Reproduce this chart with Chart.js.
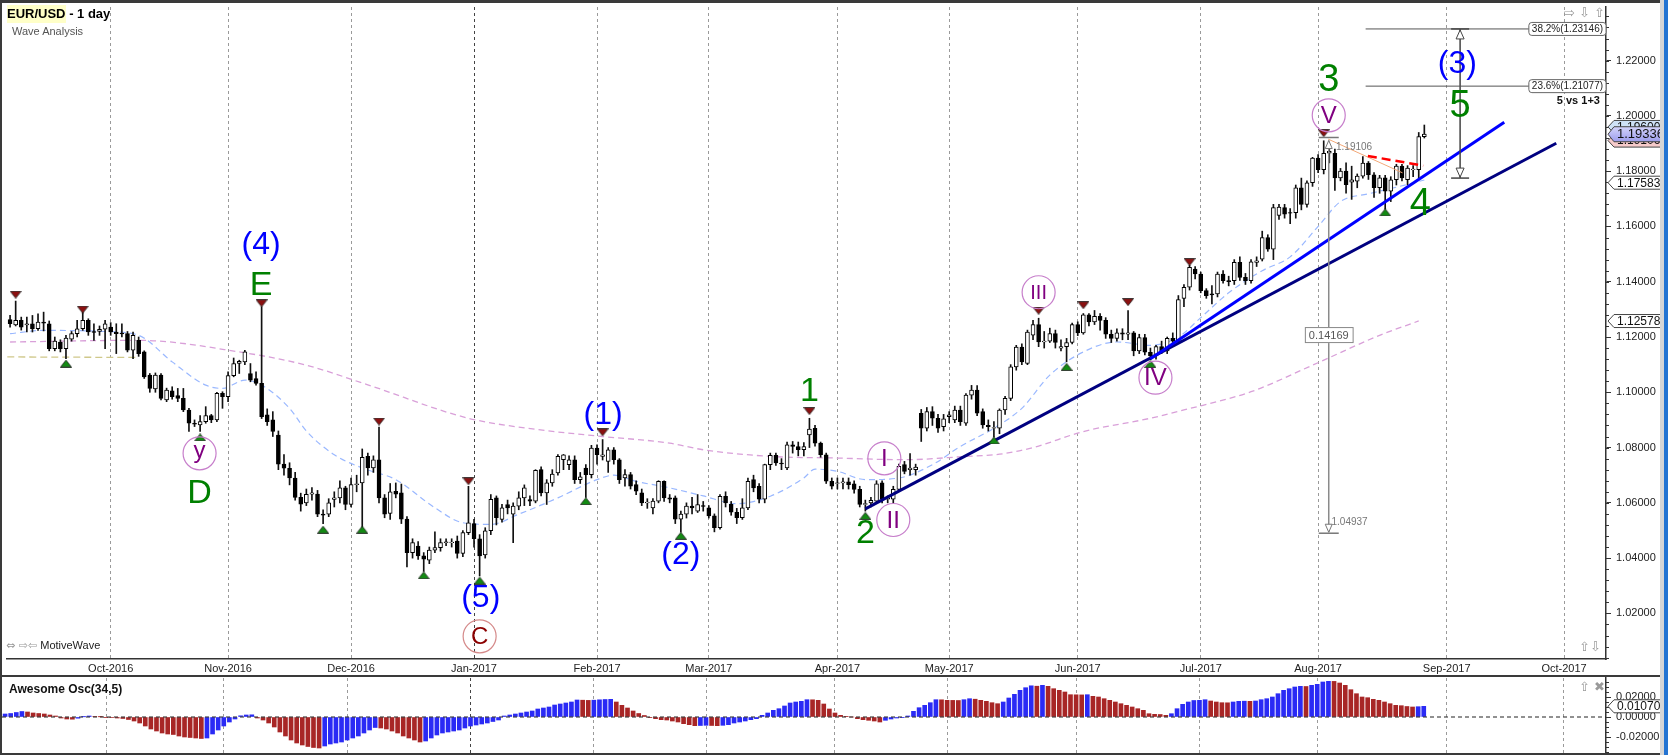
<!DOCTYPE html>
<html><head><meta charset="utf-8">
<script src="https://cdn.jsdelivr.net/npm/chart.js@4.4.1/dist/chart.umd.min.js"></script>
<style>
html,body{margin:0;padding:0;background:#fff;}
#wrap{position:relative;width:1668px;height:755px;overflow:hidden;background:#fff;font-family:'Liberation Sans',Arial,sans-serif;}
canvas{position:absolute;left:0;}
#c1{top:0;width:1668px;height:676px;}
#c2{top:676px;width:1668px;height:79px;}
.t{position:absolute;white-space:nowrap;line-height:1;}
.bar{position:absolute;background:#3a3a3a;}
.ico{position:absolute;white-space:nowrap;font-family:'DejaVu Sans',sans-serif;color:#9a9a9a;line-height:1;}
</style></head><body>
<div id="wrap">
<canvas id="c1" width="1668" height="676"></canvas>
<canvas id="c2" width="1668" height="79"></canvas>
<div class="bar" style="left:0;top:0;width:1668px;height:3px;"></div>
<div class="bar" style="left:0;top:0;width:2px;height:755px;"></div>
<div class="bar" style="left:0;top:675px;width:1664px;height:2px;"></div>
<div class="bar" style="left:0;top:753px;width:1668px;height:2px;"></div>
<div style="position:absolute;left:1660px;top:0;width:4px;height:755px;background:#d6d6d6;"></div>
<div style="position:absolute;left:1664px;top:0;width:4px;height:755px;background:#2474d2;"></div>
<div class="t" style="left:7px;top:7px;font-size:13px;font-weight:bold;color:#000;"><span style="background:#ffffc8;padding:1px 0 2px 0;">EUR/USD</span> - 1 day</div>
<div class="t" style="left:12px;top:26px;font-size:11px;color:#555;">Wave Analysis</div>
<div class="t" style="left:6px;top:640px;font-size:11px;color:#222;"><span style="font-family:'DejaVu Sans';color:#999;font-size:11px;">&#x21D4; &#x21E8;&#x21E6;</span> MotiveWave</div>
<div class="t" style="left:9px;top:683px;font-size:12px;font-weight:bold;color:#111;">Awesome Osc(34,5)</div>
<div class="ico" style="left:1564px;top:6px;font-size:13px;">&#x21E8; &#x21E9; &#x21E7;</div>
<div class="ico" style="left:1579px;top:640px;font-size:13px;">&#x21E7;&#x21E9;</div>
<div class="ico" style="left:1579px;top:680px;font-size:13px;">&#x21E7; &#x2716;</div>
</div>
<script>
const family = "'Liberation Sans', Arial, sans-serif";

// ---- categories: weekday index (0 = 7 Sep 2016) and month tick positions
const monthIdx = [18,39,61,83,105,125,148,168,191,213,234,257,278];
const monthLabels = ['Oct-2016','Nov-2016','Dec-2016','Jan-2017','Feb-2017','Mar-2017','Apr-2017','May-2017','Jun-2017','Jul-2017','Aug-2017','Sep-2017','Oct-2017'];

// ---- daily OHLC (EUR/USD)
const open = [
1.1263,1.1244,1.1260,1.1244,1.1248,1.1230,1.1254,1.1248,1.1158,1.1182,
1.1158,1.1192,1.1212,1.1230,1.1260,1.1220,1.1220,1.1228,1.1236,1.1218,
1.1214,1.1212,1.1152,1.1188,1.1146,1.1062,1.1012,1.1062,1.0972,1.1005,
1.0988,1.0978,1.0936,1.0888,1.0882,1.0894,1.0916,1.0900,1.0996,1.0984,
1.1060,1.1104,1.1110,1.1068,1.1050,1.1032,1.0918,1.0900,1.0845,1.0740,
1.0725,1.0690,1.0620,1.0600,1.0631,1.0632,1.0559,1.0559,1.0612,1.0618,
1.0654,1.0594,1.0666,1.0672,1.0768,1.0726,1.0756,1.0618,1.0562,1.0642,
1.0636,1.0541,1.0420,1.0444,1.0408,1.0393,1.0429,1.0438,1.0456,1.0456,
1.0462,1.0417,1.0492,1.0525,1.0470,1.0412,1.0499,1.0618,1.0540,1.0594,
1.0559,1.0588,1.0618,1.0612,1.0606,1.0720,1.0636,1.0672,1.0708,1.0756,
1.0738,1.0756,1.0684,1.0726,1.0702,1.0798,1.0768,1.0750,1.0792,1.0756,
1.0690,1.0702,1.0666,1.0636,1.0600,1.0582,1.0606,1.0678,1.0618,1.0618,
1.0541,1.0559,1.0588,1.0570,1.0590,1.0582,1.0553,1.0510,1.0624,1.0595,
1.0566,1.0546,1.0582,1.0684,1.0660,1.0613,1.0738,1.0772,1.0744,1.0726,
1.0810,1.0804,1.0792,1.0846,1.0870,1.0816,1.0774,1.0678,1.0670,1.0672,
1.0676,1.0669,1.0649,1.0594,1.0600,1.0606,1.0672,1.0613,1.0613,1.0649,
1.0738,1.0720,1.0720,1.0924,1.0870,1.0930,1.0906,1.0876,1.0912,1.0900,
1.0936,1.0888,1.0990,1.1008,1.0930,1.0880,1.0870,1.0870,1.0936,1.0978,
1.1092,1.1164,1.1104,1.1207,1.1245,1.1182,1.1185,1.1212,1.1160,1.1165,
1.1180,1.1245,1.1215,1.1280,1.1255,1.1275,1.1260,1.1210,1.1195,1.1215,
1.1210,1.1215,1.1150,1.1198,1.1145,1.1132,1.1165,1.1150,1.1195,1.1185,
1.1340,1.1380,1.1446,1.1428,1.1368,1.1356,1.1356,1.1428,1.1404,1.1404,
1.1470,1.1416,1.1404,1.1470,1.1482,1.1560,1.1518,1.1640,1.1668,1.1650,
1.1650,1.1740,1.1680,1.1758,1.1847,1.1805,1.1865,1.1865,1.1776,1.1800,
1.1760,1.1764,1.1782,1.1829,1.1787,1.1740,1.1776,1.1728,1.1769,1.1818,
1.1769,1.1805,1.1805,1.1925];
const high = [
1.1278,1.1330,1.1272,1.1272,1.1278,1.1284,1.1290,1.1258,1.1200,1.1190,
1.1206,1.1220,1.1260,1.1292,1.1266,1.1248,1.1240,1.1260,1.1252,1.1248,
1.1248,1.1220,1.1218,1.1200,1.1150,1.1068,1.1070,1.1068,1.1015,1.1020,
1.1014,1.1014,1.0942,1.0900,1.0916,1.0948,1.0920,1.1000,1.1002,1.1074,
1.1124,1.1116,1.1152,1.1104,1.1074,1.1310,1.0940,1.0930,1.0860,1.0775,
1.0745,1.0710,1.0635,1.0650,1.0655,1.0645,1.0575,1.0615,1.0640,1.0680,
1.0660,1.0690,1.0700,1.0795,1.0780,1.0770,1.0874,1.0630,1.0670,1.0672,
1.0668,1.0550,1.0470,1.0460,1.0420,1.0440,1.0495,1.0470,1.0470,1.0470,
1.0480,1.0500,1.0660,1.0540,1.0485,1.0510,1.0630,1.0625,1.0595,1.0610,
1.0600,1.0640,1.0665,1.0625,1.0720,1.0730,1.0684,1.0720,1.0775,1.0775,
1.0770,1.0770,1.0710,1.0738,1.0808,1.0810,1.0829,1.0800,1.0800,1.0760,
1.0720,1.0710,1.0680,1.0650,1.0615,1.0615,1.0680,1.0680,1.0630,1.0625,
1.0570,1.0600,1.0620,1.0630,1.0605,1.0590,1.0560,1.0630,1.0640,1.0605,
1.0580,1.0615,1.0690,1.0700,1.0670,1.0740,1.0780,1.0780,1.0760,1.0820,
1.0822,1.0820,1.0818,1.0906,1.0880,1.0820,1.0780,1.0690,1.0690,1.0690,
1.0690,1.0680,1.0660,1.0610,1.0620,1.0680,1.0680,1.0625,1.0660,1.0740,
1.0750,1.0778,1.0740,1.0938,1.0945,1.0948,1.0920,1.0920,1.0930,1.0950,
1.0950,1.0995,1.1025,1.1024,1.0940,1.0900,1.0894,1.0940,1.0985,1.1100,
1.1170,1.1175,1.1225,1.1260,1.1268,1.1220,1.1232,1.1225,1.1190,1.1195,
1.1250,1.1255,1.1285,1.1285,1.1296,1.1285,1.1270,1.1225,1.1230,1.1230,
1.1296,1.1220,1.1210,1.1210,1.1160,1.1170,1.1185,1.1200,1.1215,1.1350,
1.1390,1.1460,1.1455,1.1435,1.1375,1.1386,1.1435,1.1440,1.1420,1.1480,
1.1490,1.1430,1.1480,1.1490,1.1583,1.1570,1.1680,1.1680,1.1680,1.1665,
1.1750,1.1775,1.1765,1.1850,1.1860,1.1910,1.1880,1.1880,1.1810,1.1830,
1.1818,1.1790,1.1853,1.1835,1.1795,1.1785,1.1785,1.1780,1.1825,1.1825,
1.1820,1.1820,1.1940,1.1967];
const low = [
1.1236,1.1240,1.1225,1.1218,1.1218,1.1224,1.1222,1.1150,1.1150,1.1146,
1.1122,1.1185,1.1200,1.1224,1.1206,1.1188,1.1206,1.1158,1.1206,1.1140,
1.1200,1.1146,1.1122,1.1130,1.1050,1.1000,1.1000,1.0972,1.0966,1.0975,
1.0966,1.0930,1.0858,1.0876,1.0858,1.0888,1.0890,1.0894,1.0942,1.0966,
1.1056,1.1068,1.1100,1.1038,1.1026,1.0905,1.0880,1.0840,1.0720,1.0700,
1.0665,1.0610,1.0570,1.0590,1.0610,1.0550,1.0525,1.0550,1.0585,1.0600,
1.0575,1.0585,1.0640,1.0505,1.0700,1.0710,1.0600,1.0546,1.0540,1.0618,
1.0525,1.0368,1.0400,1.0395,1.0352,1.0380,1.0420,1.0425,1.0445,1.0440,
1.0400,1.0405,1.0485,1.0440,1.0335,1.0400,1.0485,1.0520,1.0530,1.0560,
1.0456,1.0575,1.0590,1.0590,1.0600,1.0625,1.0594,1.0660,1.0700,1.0720,
1.0720,1.0670,1.0670,1.0620,1.0690,1.0740,1.0755,1.0710,1.0740,1.0670,
1.0660,1.0650,1.0630,1.0590,1.0580,1.0560,1.0600,1.0605,1.0600,1.0525,
1.0494,1.0545,1.0560,1.0565,1.0570,1.0545,1.0495,1.0505,1.0585,1.0555,
1.0525,1.0540,1.0575,1.0640,1.0600,1.0600,1.0720,1.0735,1.0720,1.0720,
1.0780,1.0770,1.0770,1.0800,1.0805,1.0765,1.0670,1.0650,1.0650,1.0650,
1.0650,1.0635,1.0585,1.0570,1.0585,1.0600,1.0600,1.0600,1.0600,1.0640,
1.0705,1.0700,1.0700,1.0822,1.0860,1.0880,1.0855,1.0860,1.0890,1.0890,
1.0880,1.0880,1.0975,1.0915,1.0870,1.0860,1.0838,1.0850,1.0920,1.0970,
1.1080,1.1100,1.1100,1.1190,1.1165,1.1160,1.1180,1.1160,1.1150,1.1110,
1.1175,1.1205,1.1210,1.1240,1.1245,1.1225,1.1195,1.1180,1.1185,1.1190,
1.1190,1.1132,1.1140,1.1135,1.1118,1.1120,1.1140,1.1140,1.1180,1.1180,
1.1310,1.1370,1.1410,1.1360,1.1340,1.1320,1.1345,1.1395,1.1385,1.1390,
1.1405,1.1390,1.1395,1.1455,1.1475,1.1510,1.1480,1.1625,1.1630,1.1610,
1.1630,1.1660,1.1670,1.1745,1.1795,1.1790,1.1830,1.1730,1.1765,1.1720,
1.1698,1.1740,1.1775,1.1770,1.1705,1.1720,1.1662,1.1690,1.1750,1.1765,
1.1750,1.1780,1.1775,1.1920];
const close = [
1.1248,1.1260,1.1236,1.1248,1.1230,1.1254,1.1250,1.1158,1.1185,1.1158,
1.1196,1.1212,1.1230,1.1260,1.1218,1.1217,1.1228,1.1248,1.1218,1.1212,
1.1211,1.1152,1.1206,1.1140,1.1056,1.1014,1.1062,1.0978,1.1008,1.0984,
1.0978,1.0936,1.0888,1.0885,1.0894,1.0916,1.0900,1.0996,1.0984,1.1060,
1.1104,1.1112,1.1146,1.1044,1.1032,1.0912,1.0894,1.0858,1.0740,1.0725,
1.0690,1.0620,1.0595,1.0631,1.0636,1.0559,1.0555,1.0600,1.0618,1.0654,
1.0594,1.0666,1.0669,1.0765,1.0726,1.0756,1.0618,1.0559,1.0640,1.0631,
1.0541,1.0420,1.0456,1.0408,1.0396,1.0429,1.0438,1.0456,1.0459,1.0458,
1.0417,1.0492,1.0528,1.0470,1.0408,1.0499,1.0613,1.0546,1.0582,1.0582,
1.0588,1.0618,1.0654,1.0606,1.0718,1.0636,1.0672,1.0704,1.0768,1.0774,
1.0756,1.0684,1.0694,1.0702,1.0798,1.0774,1.0774,1.0792,1.0756,1.0684,
1.0702,1.0660,1.0642,1.0600,1.0603,1.0606,1.0678,1.0618,1.0613,1.0541,
1.0559,1.0588,1.0582,1.0594,1.0587,1.0553,1.0510,1.0624,1.0600,1.0566,
1.0546,1.0582,1.0678,1.0654,1.0613,1.0738,1.0772,1.0744,1.0741,1.0810,
1.0804,1.0792,1.0804,1.0867,1.0816,1.0774,1.0678,1.0660,1.0672,1.0676,
1.0666,1.0649,1.0594,1.0597,1.0609,1.0669,1.0613,1.0616,1.0649,1.0732,
1.0714,1.0726,1.0729,1.0870,1.0930,1.0906,1.0870,1.0904,1.0918,1.0936,
1.0894,1.0990,1.1008,1.0924,1.0882,1.0876,1.0872,1.0936,1.0978,1.1092,
1.1164,1.1110,1.1218,1.1245,1.1182,1.1185,1.1212,1.1180,1.1165,1.1180,
1.1245,1.1215,1.1280,1.1255,1.1275,1.1260,1.1210,1.1195,1.1215,1.1210,
1.1215,1.1150,1.1198,1.1145,1.1132,1.1165,1.1150,1.1195,1.1185,1.1335,
1.1380,1.1452,1.1428,1.1368,1.1350,1.1352,1.1428,1.1404,1.1400,1.1470,
1.1416,1.1404,1.1472,1.1476,1.1560,1.1518,1.1668,1.1670,1.1644,1.1648,
1.1740,1.1680,1.1758,1.1847,1.1805,1.1865,1.1872,1.1776,1.1800,1.1751,
1.1769,1.1782,1.1829,1.1787,1.1740,1.1776,1.1728,1.1769,1.1818,1.1776,
1.1811,1.1808,1.1925,1.1934];

// ---- Awesome Oscillator (34,5)
const ao = [
0.0030,0.0035,0.0045,0.0055,0.0050,0.0040,0.0035,0.0030,0.0020,0.0010,
-0.0010,-0.0020,-0.0022,-0.0012,0.0002,0.0010,0.0006,0.0002,-0.0003,-0.0006,
-0.0010,-0.0015,-0.0025,-0.0040,-0.0060,-0.0090,-0.0120,-0.0140,-0.0160,-0.0170,
-0.0175,-0.0190,-0.0200,-0.0205,-0.0210,-0.0215,-0.0210,-0.0170,-0.0130,-0.0090,
-0.0050,-0.0020,0.0012,0.0020,0.0022,-0.0010,-0.0030,-0.0060,-0.0100,-0.0150,
-0.0190,-0.0230,-0.0260,-0.0280,-0.0295,-0.0305,-0.0310,-0.0290,-0.0270,-0.0260,
-0.0250,-0.0230,-0.0210,-0.0190,-0.0160,-0.0130,-0.0105,-0.0110,-0.0120,-0.0140,
-0.0160,-0.0190,-0.0210,-0.0230,-0.0250,-0.0240,-0.0210,-0.0180,-0.0160,-0.0150,
-0.0140,-0.0130,-0.0110,-0.0090,-0.0080,-0.0070,-0.0060,-0.0045,-0.0030,0.0010,
0.0020,0.0030,0.0040,0.0050,0.0060,0.0080,0.0090,0.0100,0.0120,0.0130,
0.0140,0.0150,0.0170,0.0168,0.0166,0.0168,0.0172,0.0175,0.0177,0.0150,
0.0117,0.0090,0.0060,0.0035,0.0015,-0.0007,-0.0017,-0.0027,-0.0030,-0.0040,
-0.0050,-0.0067,-0.0077,-0.0087,-0.0085,-0.0083,-0.0085,-0.0087,-0.0083,-0.0077,
-0.0060,-0.0050,-0.0040,-0.0027,-0.0017,0.0017,0.0040,0.0067,0.0083,0.0110,
0.0140,0.0150,0.0157,0.0173,0.0172,0.0167,0.0130,0.0080,0.0040,0.0017,
0.0007,0.0000,-0.0017,-0.0027,-0.0033,-0.0040,-0.0050,-0.0033,-0.0020,-0.0010,
-0.0007,0.0010,0.0057,0.0093,0.0117,0.0143,0.0173,0.0172,0.0167,0.0166,
0.0165,0.0173,0.0183,0.0178,0.0167,0.0157,0.0143,0.0133,0.0150,0.0190,
0.0227,0.0267,0.0293,0.0312,0.0308,0.0317,0.0307,0.0283,0.0267,0.0250,
0.0223,0.0222,0.0221,0.0223,0.0207,0.0200,0.0183,0.0167,0.0150,0.0133,
0.0117,0.0100,0.0083,0.0067,0.0033,0.0027,0.0025,0.0017,0.0033,0.0083,
0.0127,0.0150,0.0165,0.0167,0.0173,0.0160,0.0150,0.0143,0.0142,0.0150,
0.0157,0.0158,0.0157,0.0160,0.0173,0.0183,0.0200,0.0233,0.0267,0.0283,
0.0300,0.0307,0.0305,0.0317,0.0327,0.0350,0.0357,0.0356,0.0340,0.0317,
0.0273,0.0233,0.0200,0.0193,0.0177,0.0167,0.0150,0.0133,0.0117,0.0113,
0.0105,0.0100,0.0103,0.0107];

// ---- moving averages [index, value]
const fastMA = [[0,1.1212],[6,1.1224],[17,1.1220],[23,1.1206],[29,1.1110],[35,1.1026],[38,1.1014],[42,1.1044],[45,1.1026],[50,1.0942],[53,1.0860],[58,1.0774],[63,1.0726],[69,1.0684],[76,1.0582],[81,1.0528],[86,1.0522],[91,1.0559],[98,1.0618],[105,1.0684],[108,1.0700],[112,1.0678],[118,1.0654],[124,1.0625],[130,1.0597],[136,1.0624],[142,1.0690],[144,1.0722],[148,1.0714],[153,1.0684],[159,1.0690],[165,1.0738],[170,1.0804],[176,1.0870],[181,1.0942],[186,1.1062],[192,1.1146],[198,1.1182],[204,1.1170],[209,1.1200],[213,1.1270],[218,1.1360],[224,1.1440],[229,1.1490],[234,1.1600],[238,1.1690],[243,1.1718],[248,1.1742],[253,1.1768]];
const slowMA = [[0,1.1182],[23,1.1188],[41,1.1146],[53,1.1098],[64,1.1027],[82,1.0906],[94,1.0866],[106,1.0840],[118,1.0816],[124,1.0792],[136,1.0768],[148,1.0762],[160,1.0756],[171,1.0768],[177,1.0776],[183,1.0800],[192,1.0858],[204,1.0906],[210,1.0936],[222,1.1002],[233,1.1098],[245,1.1206],[252,1.1258]];
const oliveLine = [[-0.5,1.1128],[23,1.1126]];

// ---- drawn tools [index, price]
const trendNavy = [[153,1.0578],[276.6,1.1901]];
const trendBlue = [[204,1.1121],[267.3,1.1977]];
const redDash = [[242.9,1.1855],[252.8,1.1820]];
const orangeLine = [[235.8,1.1916],[249.1,1.1794]];
const fib382 = [[242.5,1.23146],[271.7,1.23146]];
const fib236 = [[242.5,1.21077],[271.7,1.21077]];
const measureA = [[235.9,1.1911],[235.9,1.04937]];
const measureB = [[259.4,1.23146],[259.4,1.1775]];

// ---- swing markers [index, price]
const swingHighs = [[1,1.1353],[13,1.1299],[45,1.1322],[66,1.0894],[82,1.0678],[106,1.0855],[143,1.0932],[184,1.1295],[192,1.1315],[200,1.1326],[211,1.1471],[235,1.1937]];
const swingLows = [[10,1.1104],[34,1.0837],[56,1.0503],[63,1.0503],[74,1.0338],[84,1.0319],[103,1.0606],[120,1.0481],[153,1.0553],[176,1.0826],[189,1.1092],[204,1.1103],[246,1.1651]];

// ---- wave labels [text, index, price, kind]
const waveLabels = [['(4)',44.9,1.1531,'b'],['E',44.9,1.1387,'g'],['D',33.9,1.0632,'g'],['(5)',84.2,1.0254,'b'],['(1)',106.1,1.0919,'b'],['(2)',120,1.0409,'b'],['1',143,1.1002,'g'],['2',153,1.0488,'g'],['3',235.9,1.2128,'g'],['(3)',258.9,1.2186,'b'],['5',259.4,1.2035,'g'],['4',252.3,1.1678,'g']];
const circleLabels = [['y',33.9,1.0779,'p'],['C',84,1.0117,'r'],['I',156.4,1.0761,'p'],['II',158,1.0538,'p'],['III',184,1.1362,'p'],['IV',204.9,1.1053,'p'],['V',235.9,1.2002,'p']];
const priceTags = [[1.19600,'#cfe2f6',0],[1.19106,'#f6caca',0],[1.19336,'#a9a9f2',1],[1.17583,'#ffffff',0],[1.12578,'#ffffff',0]];

const N = open.length;
const idx = open.map((_, i) => i);

function triImg(color, down) {
  const c = document.createElement('canvas'); c.width = 12; c.height = 8;
  const g = c.getContext('2d');
  g.beginPath();
  if (down) { g.moveTo(0.5,0.5); g.lineTo(11.5,0.5); g.lineTo(6,7.5); }
  else { g.moveTo(6,0.5); g.lineTo(11.5,7.5); g.lineTo(0.5,7.5); }
  g.closePath(); g.fillStyle = color; g.fill(); g.strokeStyle = '#222'; g.lineWidth = 0.8; g.stroke();
  return c;
}
const pts = a => a.map(p => ({x: p[0], y: p[1]}));
const lineDs = (data, color, width, dash, order, tension) => ({type:'line', data: pts(data), borderColor: color, borderWidth: width, borderDash: dash || [], pointRadius: 0, fill: false, tension: tension || 0, cubicInterpolationMode: tension ? 'monotone' : 'default', order});

function rrect(ctx, x, y, w, h, r) {
  ctx.beginPath(); ctx.moveTo(x + r, y); ctx.arcTo(x + w, y, x + w, y + h, r); ctx.arcTo(x + w, y + h, x, y + h, r);
  ctx.arcTo(x, y + h, x, y, r); ctx.arcTo(x, y, x + w, y, r); ctx.closePath();
}
function tag(ctx, xl, yc, text, fill, big) {
  const h = big ? 15 : 13, tip = 6;
  ctx.font = (big ? '13px ' : '12px ') + family;
  const w = ctx.measureText(text).width + 6;
  ctx.beginPath(); ctx.moveTo(xl, yc); ctx.lineTo(xl + tip, yc - h / 2); ctx.lineTo(xl + tip + w, yc - h / 2);
  ctx.lineTo(xl + tip + w, yc + h / 2); ctx.lineTo(xl + tip, yc + h / 2); ctx.closePath();
  if (big) { const gr = ctx.createLinearGradient(0, yc - h / 2, 0, yc + h / 2); gr.addColorStop(0, '#d4d4fb'); gr.addColorStop(1, '#9c9cec'); ctx.fillStyle = gr; }
  else ctx.fillStyle = fill;
  ctx.fill(); ctx.strokeStyle = '#444'; ctx.lineWidth = 1; ctx.stroke();
  ctx.fillStyle = '#111'; ctx.textAlign = 'left'; ctx.textBaseline = 'middle'; ctx.fillText(text, xl + tip + 3, yc + 0.5);
}

const gridColor = c => (c.tick && c.tick.value === 83) ? '#444' : '#9a9a9a';

const mainDecor = {
  id: 'mainDecor',
  afterDraw(chart) {
    const {ctx, chartArea: ca} = chart;
    const sx = chart.scales.x, sy = chart.scales.y;
    const X = v => sx.getPixelForValue(v), Y = v => sy.getPixelForValue(v);
    ctx.save();
    ctx.strokeStyle = '#333'; ctx.lineWidth = 1;
    for (let v = 1.004; v < sy.max; v += 0.004) {
      const py = Math.round(Y(v)) + 0.5;
      ctx.beginPath(); ctx.moveTo(ca.right, py); ctx.lineTo(ca.right + 3, py); ctx.stroke();
    }
    const kinds = {b: ['#0000ff', 32], g: ['#008000', 34]};
    ctx.textAlign = 'center'; ctx.textBaseline = 'middle';
    for (const [t, xi, yp, k] of waveLabels) {
      let sz = kinds[k][1];
      if (t === '3' || t === '4' || t === '5') sz = 38;
      ctx.font = sz + 'px ' + family; ctx.fillStyle = kinds[k][0];
      ctx.fillText(t, X(xi), Y(yp));
    }
    for (const [t, xi, yp, k] of circleLabels) {
      const px = X(xi), py = Y(yp);
      ctx.beginPath(); ctx.arc(px, py, 16.5, 0, Math.PI * 2);
      ctx.strokeStyle = k === 'r' ? '#d58a8a' : '#c77fcb'; ctx.lineWidth = 1.2; ctx.stroke();
      ctx.font = (t.length > 2 ? 20 : 24) + 'px ' + family; ctx.fillStyle = k === 'r' ? '#8b0000' : '#800080';
      ctx.fillText(t, px, py + (t === 'y' ? -2 : 1));
    }
    ctx.font = '10px ' + family;
    for (const [lab, f] of [['38.2%(1.23146)', fib382], ['23.6%(1.21077)', fib236]]) {
      const x0 = X(f[1][0]), y0 = Y(f[1][1]);
      const w = ctx.measureText(lab).width + 6;
      rrect(ctx, x0, y0 - 6.5, w, 13, 3); ctx.fillStyle = '#fff'; ctx.fill(); ctx.strokeStyle = '#666'; ctx.lineWidth = 1; ctx.stroke();
      ctx.fillStyle = '#222'; ctx.textAlign = 'left'; ctx.fillText(lab, x0 + 3, y0 + 0.5);
    }
    ctx.font = 'bold 11px ' + family; ctx.fillStyle = '#111'; ctx.textAlign = 'left';
    ctx.fillText('5 vs 1+3', X(276.7), Y(1.2053));
    const ax = X(measureA[0][0]);
    ctx.strokeStyle = '#777'; ctx.lineWidth = 1.5;
    let yt = Y(measureA[0][1]), yb = Y(measureA[1][1]);
    ctx.beginPath(); ctx.moveTo(ax - 10, yt - 3); ctx.lineTo(ax + 10, yt - 3); ctx.stroke();
    ctx.beginPath(); ctx.moveTo(ax - 10, yb + 1); ctx.lineTo(ax + 10, yb + 1); ctx.stroke();
    ctx.lineWidth = 1;
    ctx.beginPath(); ctx.moveTo(ax, yt); ctx.lineTo(ax - 3.5, yt + 8); ctx.lineTo(ax + 3.5, yt + 8); ctx.closePath(); ctx.fillStyle = '#fff'; ctx.fill(); ctx.stroke();
    ctx.beginPath(); ctx.moveTo(ax, yb); ctx.lineTo(ax - 3.5, yb - 8); ctx.lineTo(ax + 3.5, yb - 8); ctx.closePath(); ctx.fill(); ctx.stroke();
    ctx.font = '10px ' + family; ctx.fillStyle = '#777'; ctx.textAlign = 'left';
    ctx.fillText('1.19106', X(237.2), Y(1.1887));
    ctx.fillText('1.04937', X(236.4), Y(1.0531));
    ctx.font = '11px ' + family;
    const mw = ctx.measureText('0.14169').width + 8, my = Y(1.1207);
    ctx.fillStyle = '#fff'; ctx.fillRect(ax - mw / 2, my - 8, mw, 16); ctx.strokeStyle = '#888'; ctx.strokeRect(ax - mw / 2 + 0.5, my - 7.5, mw, 15);
    ctx.fillStyle = '#555'; ctx.textAlign = 'center'; ctx.fillText('0.14169', ax, my + 0.5);
    const bx = X(measureB[0][0]);
    yt = Y(measureB[0][1]); yb = Y(measureB[1][1]);
    ctx.strokeStyle = '#444'; ctx.lineWidth = 1.5;
    ctx.beginPath(); ctx.moveTo(bx - 9, yt); ctx.lineTo(bx + 9, yt); ctx.stroke();
    ctx.beginPath(); ctx.moveTo(bx - 9, yb); ctx.lineTo(bx + 9, yb); ctx.stroke();
    ctx.lineWidth = 1; ctx.fillStyle = '#fff';
    ctx.beginPath(); ctx.moveTo(bx, yt + 1); ctx.lineTo(bx - 4, yt + 10); ctx.lineTo(bx + 4, yt + 10); ctx.closePath(); ctx.fill(); ctx.stroke();
    ctx.beginPath(); ctx.moveTo(bx, yb - 1); ctx.lineTo(bx - 4, yb - 10); ctx.lineTo(bx + 4, yb - 10); ctx.closePath(); ctx.fill(); ctx.stroke();
    for (const [v, fill, big] of priceTags) tag(ctx, ca.right + 2, Y(v), v.toFixed(5), fill, big);
    ctx.restore();
  }
};

const aoDecor = {
  id: 'aoDecor',
  afterDraw(chart) {
    const {ctx, chartArea: ca} = chart;
    const sy = chart.scales.y;
    ctx.save();
    ctx.strokeStyle = '#333'; ctx.lineWidth = 1;
    for (let v = -0.035; v < sy.max; v += 0.005) {
      const py = Math.round(sy.getPixelForValue(v)) + 0.5;
      ctx.beginPath(); ctx.moveTo(ca.right, py); ctx.lineTo(ca.right + 3, py); ctx.stroke();
    }
    tag(ctx, ca.right + 2, sy.getPixelForValue(ao[N - 1]), ao[N - 1].toFixed(5), '#fff', 0);
    ctx.restore();
  }
};

const xBase = {
  type: 'linear', min: -0.55, max: 285.5, offset: false,
  afterBuildTicks: s => { s.ticks = monthIdx.map(v => ({value: v})); },
  grid: {color: gridColor, lineWidth: 1, drawTicks: false, offset: false},
  border: {display: false, dash: [3, 3]}
};

new Chart(document.getElementById('c1'), {
  type: 'bar',
  data: {datasets: [
    lineDs(slowMA, '#d9a0d9', 1.3, [6, 4], 20, 0.4),
    lineDs(fastMA, '#9ab8ff', 1.2, [6, 4], 19, 0.4),
    lineDs(oliveLine, '#cfc88a', 1.3, [7, 4], 18),
    {type: 'bar', data: idx.map(i => ({x: i, y: [low[i], high[i]]})), backgroundColor: '#111', borderWidth: 0, barThickness: 1, grouped: false, order: 10},
    {type: 'bar', data: idx.map(i => ({x: i, y: [open[i], close[i]]})), backgroundColor: idx.map(i => close[i] >= open[i] ? '#ffffff' : '#000000'), borderColor: '#000', borderWidth: 1, borderSkipped: false, barThickness: 4, grouped: false, order: 9},
    lineDs(trendNavy, '#000080', 3, null, 6),
    lineDs(trendBlue, '#0000ff', 3, null, 5),
    lineDs(orangeLine, '#f2a878', 1, null, 7),
    lineDs(redDash, '#ff0000', 2.5, [9, 5], 4),
    lineDs(fib382, '#555', 1, null, 4),
    lineDs(fib236, '#555', 1, null, 4),
    lineDs(measureA, '#8a8a8a', 1.5, null, 4),
    lineDs(measureB, '#444', 1.5, null, 4),
    {type: 'scatter', data: pts(swingHighs), pointStyle: triImg('#8b1010', true), pointRadius: 6, order: 1},
    {type: 'scatter', data: pts(swingLows), pointStyle: triImg('#138a13', false), pointRadius: 6, order: 1}
  ]},
  options: {
    responsive: false, animation: false, devicePixelRatio: 1,
    layout: {padding: {left: 2, top: 3, right: 0, bottom: 0}},
    plugins: {legend: {display: false}, tooltip: {enabled: false}},
    scales: {
      x: Object.assign({}, xBase, {
        afterFit: s => { s.height = 17; s.paddingLeft = 0; s.paddingRight = 0; },
        ticks: {autoSkip: false, maxRotation: 0, padding: 3, color: '#222', font: {size: 11, family}, callback: v => { const k = monthIdx.indexOf(v); return k >= 0 ? monthLabels[k] : ''; }},
        border: {display: true, color: '#333', width: 1.5, dash: [3, 3]}
      }),
      y: {
        type: 'linear', position: 'right', min: 1.0035, max: 1.2394,
        afterFit: s => { s.width = 62; s.paddingTop = 0; s.paddingBottom = 0; },
        ticks: {stepSize: 0.02, includeBounds: false, padding: 5, color: '#222', font: {size: 11, family}, callback: v => v.toFixed(5)},
        grid: {drawOnChartArea: false, drawTicks: true, tickLength: 5, tickColor: '#333'},
        border: {display: true, color: '#333', width: 1.5}
      }
    }
  },
  plugins: [mainDecor]
});

new Chart(document.getElementById('c2'), {
  type: 'bar',
  data: {datasets: [
    {type: 'bar', data: idx.map(i => ({x: i, y: ao[i]})), backgroundColor: idx.map(i => (i === 0 || ao[i] >= ao[i - 1]) ? '#2a2af5' : '#a82626'), borderWidth: 0, barThickness: 4, grouped: false, order: 2},
    lineDs([[-0.55, 0], [285.5, 0]], '#222', 1, [4, 3], 1)
  ]},
  options: {
    responsive: false, animation: false, devicePixelRatio: 1,
    layout: {padding: {left: 2, top: 2, right: 0, bottom: 2}},
    plugins: {legend: {display: false}, tooltip: {enabled: false}},
    scales: {
      x: Object.assign({}, xBase, {
        afterFit: s => { s.height = 0; s.paddingLeft = 0; s.paddingRight = 0; },
        ticks: {display: false}
      }),
      y: {
        type: 'linear', position: 'right', min: -0.036, max: 0.039,
        afterFit: s => { s.width = 62; s.paddingTop = 0; s.paddingBottom = 0; },
        ticks: {stepSize: 0.02, includeBounds: false, padding: 5, color: '#222', font: {size: 11, family}, callback: v => (Math.abs(v) < 1e-9 ? 0 : v).toFixed(5)},
        grid: {drawOnChartArea: false, drawTicks: true, tickLength: 5, tickColor: '#333'},
        border: {display: true, color: '#333', width: 1.5}
      }
    }
  },
  plugins: [aoDecor]
});
</script>
</body></html>
